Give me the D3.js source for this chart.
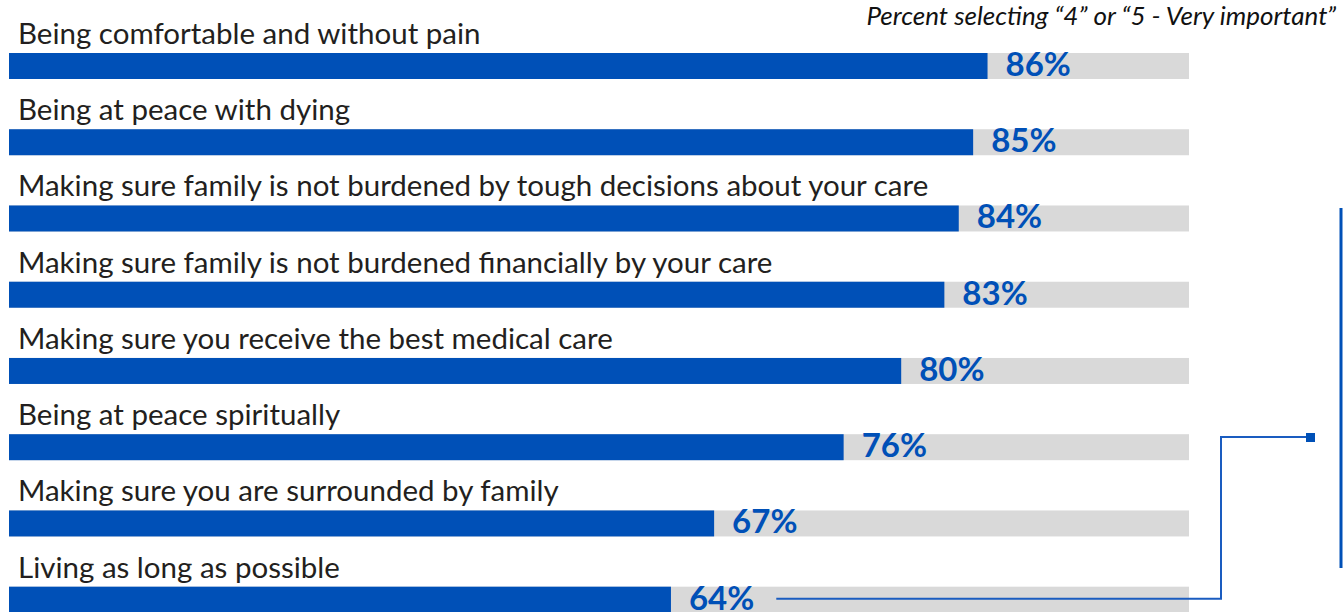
<!DOCTYPE html>
<html>
<head>
<meta charset="utf-8">
<script src="https://cdn.jsdelivr.net/npm/d3@7"></script>
<style>
  html, body { margin: 0; padding: 0; background: #fff; }
  svg { display: block; }
</style>
</head>
<body>
<svg id="chart" width="1343" height="612"></svg>
<script>
// Priorities at the end of life
const categories = [
  "Being comfortable and without pain",
  "Being at peace with dying",
  "Making sure family is not burdened by tough decisions about your care",
  "Making sure family is not burdened financially by your care",
  "Making sure you receive the best medical care",
  "Being at peace spiritually",
  "Making sure you are surrounded by family",
  "Living as long as possible"
];
const values = [86, 85, 84, 83, 80, 76, 67, 64];
const subtitle = "Percent selecting \u201C4\u201D or \u201C5 - Very important\u201D";

const BLUE = "#0050b7";
const GREY = "#d9d9d9";
const INK = "#231f20";
const FONT = "Lato, 'Open Sans', sans-serif";

const svg = d3.select("#chart");

const x = d3.scaleLinear().domain([18, 100]).range([9, 1189]);
const y = d3.scaleBand()
  .domain(categories)
  .range([53, 53 + 7 * 76.24 + 26])
  .paddingInner(0.659)
  .paddingOuter(0);

const rows = svg.append("g").selectAll("g")
  .data(categories.map((c, i) => ({ cat: c, val: values[i] })))
  .join("g")
  .attr("transform", d => `translate(0,${y(d.cat)})`);

// full-scale track
rows.append("rect")
  .attr("x", x(18)).attr("y", 0)
  .attr("width", x(100) - x(18))
  .attr("height", y.bandwidth())
  .attr("fill", GREY);

// value bar
rows.append("rect")
  .attr("x", x(18)).attr("y", 0)
  .attr("width", d => x(d.val) - x(18))
  .attr("height", y.bandwidth())
  .attr("fill", BLUE);

// category label above the bar
rows.append("text")
  .attr("x", 18).attr("y", -9)
  .attr("font-family", FONT)
  .attr("font-size", 29.5)
  .attr("fill", INK)
  .text(d => d.cat);

// value label
const valueLabels = rows.append("text")
  .attr("x", d => x(d.val) + 18)
  .attr("y", y.bandwidth() - 3)
  .attr("font-family", FONT)
  .attr("font-weight", 700)
  .attr("font-size", 33)
  .attr("fill", BLUE)
  .text(d => d.val + "%");

// subtitle
svg.append("text")
  .attr("x", 1336).attr("y", 25)
  .attr("text-anchor", "end")
  .attr("font-family", FONT)
  .attr("font-style", "italic")
  .attr("font-size", 26)
  .attr("fill", "#111")
  .text(subtitle);

// callout bracket on the right
svg.append("line")
  .attr("x1", 1341).attr("x2", 1341)
  .attr("y1", 208).attr("y2", 568)
  .attr("stroke", BLUE).attr("stroke-width", 3);

// connector from the last value label to the bracket
const last = values.length - 1;
const lastLabel = valueLabels.nodes()[last];
const labelEnd = x(values[last]) + 18 + lastLabel.getComputedTextLength();
const cy = y(categories[last]) + y.bandwidth() / 2 - 1;
svg.append("path")
  .attr("d", `M${labelEnd + 22},${cy} H1221 V437 H1310`)
  .attr("fill", "none")
  .attr("stroke", "#1a5cc0")
  .attr("stroke-width", 2);
svg.append("rect")
  .attr("x", 1306).attr("y", 433)
  .attr("width", 9).attr("height", 9)
  .attr("fill", BLUE);
</script>
</body>
</html>
